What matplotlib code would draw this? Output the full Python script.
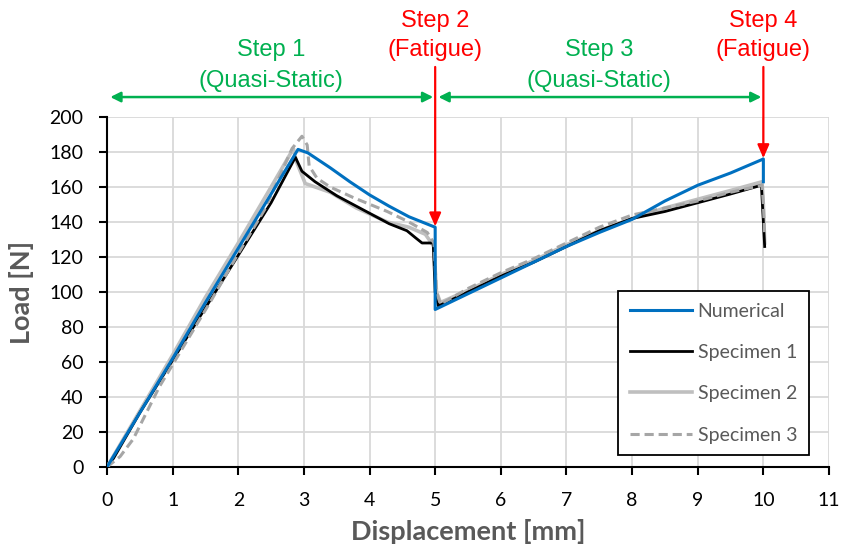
import matplotlib
matplotlib.use("Agg")
import matplotlib.pyplot as plt
from matplotlib import font_manager

# ---------------- data ----------------
num_x = [0, 0.5, 1, 1.5, 2, 2.5, 2.91, 3.06, 3.4, 3.7, 4.0, 4.3, 4.6, 5.0, 5.0,
         5.5, 6.0, 6.5, 7.0, 7.5, 8.0, 8.5, 9.0, 9.5, 10.0, 10.0]
num_y = [0, 31, 62, 94, 125, 156, 181.5, 179.5, 171, 163, 155.5, 149, 143, 137, 90,
         99, 108, 117, 126, 134, 141.5, 152, 161, 168, 176, 163]

s1_x = [0, 0.1, 0.5, 1, 1.5, 2, 2.5, 2.87, 2.97, 3.17, 3.5, 4.0, 4.3, 4.57, 4.7, 4.8,
        4.97, 5.0, 5.05, 5.5, 6, 6.5, 7, 7.5, 8, 8.5, 9, 9.5, 9.97, 10.0, 10.02]
s1_y = [0, 5, 31, 61, 91, 121, 151, 177, 169, 163, 155, 145, 139, 135, 131, 128,
        128, 100, 92, 100, 109, 117, 126, 135, 142, 146, 151, 156, 161, 140, 126]

s2_x = [0, 0.5, 1, 1.5, 2, 2.5, 2.84, 2.88, 3.02, 3.4, 3.8, 4.27, 4.6, 4.85, 4.98,
        5.02, 5.08, 5.5, 6, 6.5, 7, 7.5, 8, 8.5, 9, 9.5, 9.98, 10.0, 10.02]
s2_y = [0, 32, 64, 97, 128, 160, 182, 175, 162, 157, 148, 140, 137, 133, 126,
        100, 94, 101, 110, 118, 127, 135, 142, 148, 153, 158, 163, 150, 128]

s3_x = [0, 0.2, 0.4, 0.6, 0.8, 1.2, 1.6, 2.0, 2.4, 2.82, 2.97, 3.05, 3.08, 3.2,
        3.4, 3.75, 4.27, 4.6, 4.88, 4.98, 5.02, 5.08, 5.5, 6, 6.5, 7, 7.5, 8,
        8.5, 9, 9.5, 9.98, 10.0, 10.02]
s3_y = [0, 6, 16, 31, 46, 71, 96, 122, 147, 182, 189, 184, 172, 165,
        160, 154, 146, 140, 134, 128, 100, 93, 102, 111, 119, 128, 137, 144,
        148, 152, 157, 161, 150, 132]

x_ticks = list(range(0, 12))
y_ticks = list(range(0, 201, 20))
series_labels = ["Numerical", "Specimen 1", "Specimen 2", "Specimen 3"]

# ---------------- fonts ----------------
avail = {f.name for f in font_manager.fontManager.ttflist}
main_font = "Lato" if "Lato" in avail else "DejaVu Sans"
plt.rcParams['font.family'] = [main_font, 'DejaVu Sans']

fig = plt.figure(figsize=(8.41, 5.51), dpi=100)
ax = fig.add_axes([107/841, 84/551, 722/841, 350/551])

ax.plot(s2_x, s2_y, color="#bfbfbf", lw=2.6, label=series_labels[2], zorder=3)
ax.plot(s1_x, s1_y, color="black", lw=2.0, label=series_labels[1], zorder=4)
ax.plot(s3_x, s3_y, color="#a6a6a6", lw=2.2, ls=(0, (3, 1.6)), label=series_labels[3], zorder=5)
ax.plot(num_x, num_y, color="#0070c0", lw=2.2, label=series_labels[0], zorder=6)

ax.set_xlim(0, 11)
ax.set_ylim(0, 200)
ax.set_xticks(x_ticks)
ax.set_yticks(y_ticks)
ax.grid(True, color="#d9d9d9", lw=1.3)
ax.set_axisbelow(True)
for s in ["top", "right"]:
    ax.spines[s].set_visible(False)
for s in ["left", "bottom"]:
    ax.spines[s].set_color("black")
    ax.spines[s].set_linewidth(1.5)
ax.tick_params(direction="out", length=6, width=1.5, labelsize=14, colors="black")
ax.tick_params(axis="x", pad=12)
ax.tick_params(axis="y", pad=11)

ax.set_xlabel("Displacement [mm]", fontsize=19.5, fontweight="bold", color="#595959", labelpad=7)
ax.set_ylabel("Load [N]", fontsize=19.5, fontweight="bold", color="#595959", labelpad=11)

handles, labels = ax.get_legend_handles_labels()
order = [3, 1, 0, 2]
leg = ax.legend([handles[i] for i in order], [labels[i] for i in order],
                loc="upper left", bbox_to_anchor=(618/841, 1 - 291/551),
                bbox_transform=fig.transFigure, fontsize=14, frameon=True,
                fancybox=False, framealpha=1, edgecolor="black", borderaxespad=0,
                handlelength=3.2, labelspacing=1.25, borderpad=0.6, handletextpad=0.3)
leg.get_frame().set_linewidth(1.3)
for t in leg.get_texts():
    t.set_color("#595959")

green = "#00b050"
red = "#ff0000"
tfont = dict(family=['Liberation Sans', 'DejaVu Sans'], fontsize=17, ha="center", va="center")

# green step arrows
for x0, x1 in [(0.05, 4.97), (5.05, 9.97)]:
    ax.annotate("", xy=(x1, 211.4), xytext=(x0, 211.4), annotation_clip=False,
                arrowprops=dict(arrowstyle="<|-|>,head_length=0.6,head_width=0.3",
                                color=green, lw=1.8, shrinkA=0, shrinkB=0))
ax.text(2.5, 238.3, "Step 1", color=green, clip_on=False, **tfont)
ax.text(2.5, 220.6, "(Quasi-Static)", color=green, clip_on=False, **tfont)
ax.text(7.5, 238.3, "Step 3", color=green, clip_on=False, **tfont)
ax.text(7.5, 220.6, "(Quasi-Static)", color=green, clip_on=False, **tfont)

# red fatigue arrows
for xs, ytip in [(5.0, 137.5), (10.0, 176.5)]:
    ax.annotate("", xy=(xs, ytip), xytext=(xs, 228.6), annotation_clip=False,
                arrowprops=dict(arrowstyle="-|>,head_length=0.8,head_width=0.35",
                                color=red, lw=1.6, shrinkA=0, shrinkB=0), zorder=10)
ax.text(5.0, 254.9, "Step 2", color=red, clip_on=False, **tfont)
ax.text(5.0, 238.3, "(Fatigue)", color=red, clip_on=False, **tfont)
ax.text(10.0, 254.9, "Step 4", color=red, clip_on=False, **tfont)
ax.text(10.0, 238.3, "(Fatigue)", color=red, clip_on=False, **tfont)

fig.savefig("out.png", dpi=100)
